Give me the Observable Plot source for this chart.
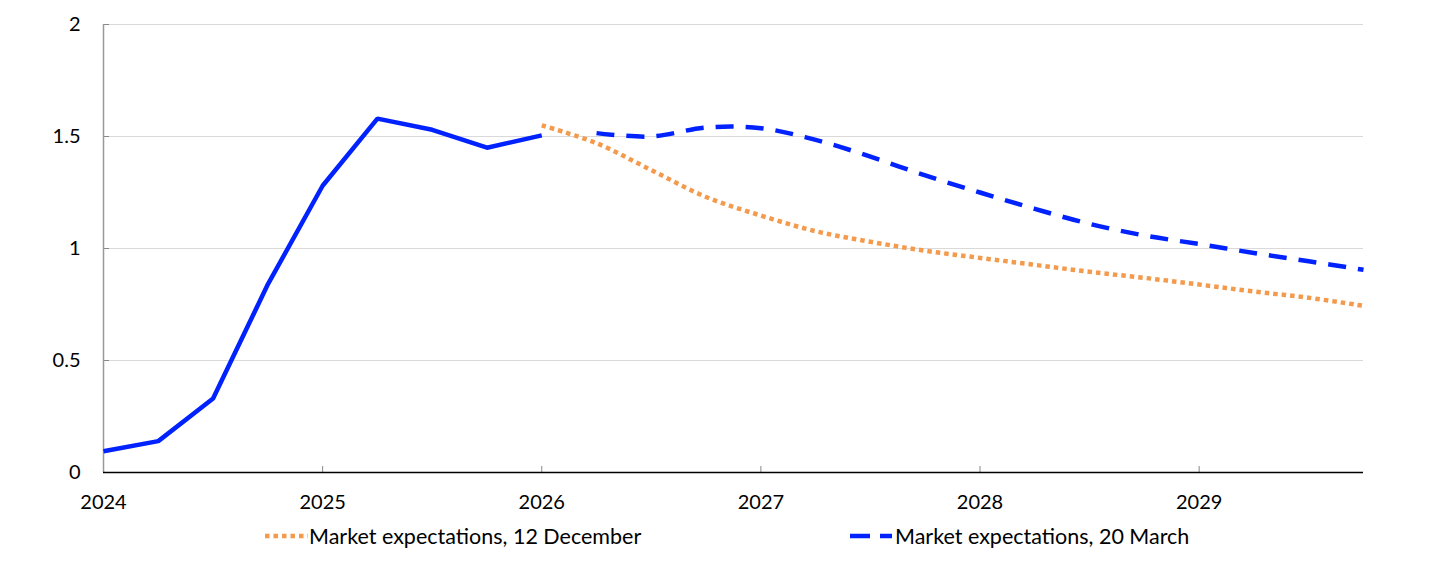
<!DOCTYPE html>
<html>
<head>
<meta charset="utf-8">
<script src="https://cdn.jsdelivr.net/npm/d3@7"></script>
<script src="https://cdn.jsdelivr.net/npm/@observablehq/plot@0.6"></script>
<style>
  html, body { margin: 0; padding: 0; background: #fff; }
  body { width: 1445px; height: 575px; overflow: hidden; font-family: Lato, "Open Sans", sans-serif; }
  #legend { position: relative; height: 55px; font-size: 21.5px; color: #000; }
  .item { position: absolute; top: 3px; display: flex; align-items: center; }
  .item svg { display: block; margin-right: 1px; }
</style>
</head>
<body>
<div id="chart"></div>
<div id="legend">
  <div class="item" style="left:265px">
    <svg width="43" height="10"><line x1="0" y1="5" x2="43" y2="5" stroke="#f39a4c" stroke-width="4.5" stroke-dasharray="4.5,4"/></svg>
    <span>Market expectations, 12 December</span>
  </div>
  <div class="item" style="left:850px">
    <svg width="44" height="10"><line x1="0" y1="5" x2="42" y2="5" stroke="#0022ff" stroke-width="4.5" stroke-dasharray="20,10"/></svg>
    <span>Market expectations, 20 March</span>
  </div>
</div>
<script>
// Historic (solid)
const histQuarters = [2024, 2024.25, 2024.5, 2024.75, 2025, 2025.25, 2025.5, 2025.75, 2026];
const histValues   = [0.095, 0.14, 0.33, 0.84, 1.28, 1.58, 1.53, 1.45, 1.505];

// Market expectations, 12 December (dotted)
const decQuarters = [2026, 2026.25, 2026.5, 2026.75, 2027, 2027.25, 2027.5, 2027.75,
                     2028, 2028.25, 2028.5, 2028.75, 2029, 2029.25, 2029.5, 2029.75];
const decValues   = [1.55, 1.47, 1.35, 1.23, 1.147, 1.077, 1.03, 0.99,
                     0.958, 0.927, 0.896, 0.869, 0.839, 0.808, 0.78, 0.744];

// Market expectations, 20 March (dashed)
const marQuarters = [2026.25, 2026.5, 2026.75, 2027, 2027.25, 2027.5, 2027.75,
                     2028, 2028.25, 2028.5, 2028.75, 2029, 2029.25, 2029.5, 2029.75];
const marValues   = [1.515, 1.50, 1.54, 1.537, 1.485, 1.41, 1.326,
                     1.25, 1.177, 1.11, 1.058, 1.02, 0.98, 0.943, 0.905];

const yTicks = [0, 0.5, 1, 1.5, 2];
const yTickLabels = ["0", "0.5", "1", "1.5", "2"];
const xTicks = [2024, 2025, 2026, 2027, 2028, 2029];
const xTickLabels = ["2024", "2025", "2026", "2027", "2028", "2029"];

const hist = histQuarters.map((q, i) => ({x: q, y: histValues[i]}));
const dec = decQuarters.map((q, i) => ({x: q, y: decValues[i]}));
const mar = marQuarters.map((q, i) => ({x: q, y: marValues[i]}));

const blue = "#0022ff";
const orange = "#f39a4c";

const chart = Plot.plot({
  width: 1445,
  height: 520,
  marginLeft: 103,
  marginRight: 82,
  marginTop: 24,
  marginBottom: 48,
  style: {fontFamily: "Lato, 'Open Sans', sans-serif", fontSize: "20px", color: "#000", background: "#fff"},
  x: {domain: [2024, 2029.75], axis: null},
  y: {domain: [0, 2], axis: null},
  marks: [
    Plot.gridY(yTicks, {stroke: "#d9d9d9", strokeOpacity: 1, strokeWidth: 1}),
    Plot.axisY({ticks: yTicks, tickFormat: d => yTickLabels[yTicks.indexOf(d)], tickSize: 0, tickPadding: 23, fontSize: 20, label: null}),
    Plot.axisY({ticks: yTicks, text: null, tickSize: 6, dx: 6, stroke: "#888", label: null}),
    Plot.axisX({ticks: xTicks, tickFormat: d => xTickLabels[xTicks.indexOf(d)], tickSize: 0, tickPadding: 22, fontSize: 20, label: null}),
    Plot.axisX({ticks: xTicks, text: null, tickSize: 6, dy: -6, stroke: "#888", label: null}),
    Plot.ruleX([2024], {stroke: "#999", strokeWidth: 1.5}),
    Plot.ruleY([0], {stroke: "#000", strokeWidth: 1.5}),
    Plot.line(hist, {x: "x", y: "y", stroke: blue, strokeWidth: 4.5, strokeLinejoin: "miter", strokeLinecap: "butt"}),
    Plot.line(mar, {x: "x", y: "y", stroke: blue, strokeWidth: 4.5, strokeDasharray: "18,12", strokeLinecap: "butt", curve: "catmull-rom"}),
    Plot.line(dec, {x: "x", y: "y", stroke: orange, strokeWidth: 4.5, strokeDasharray: "4.5,4", strokeLinecap: "butt", curve: "catmull-rom"})
  ]
});
document.getElementById("chart").appendChild(chart);
</script>
</body>
</html>
